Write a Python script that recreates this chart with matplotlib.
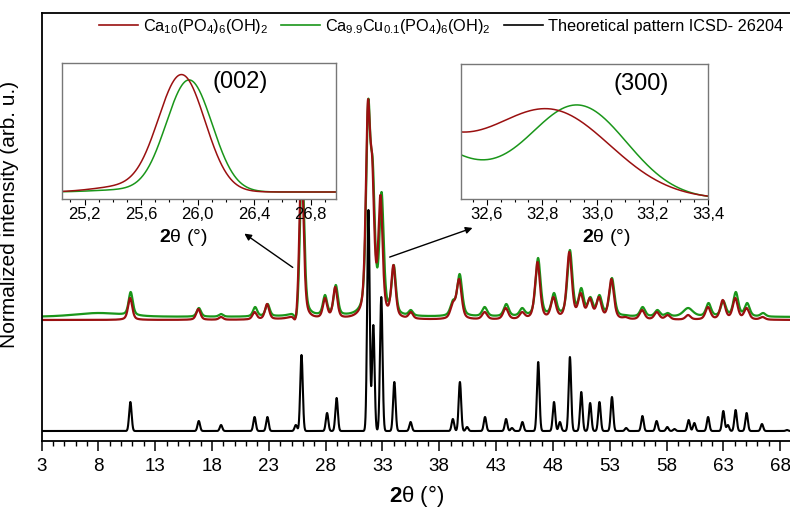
import numpy as np
import matplotlib.pyplot as plt
from matplotlib.ticker import FixedLocator, MultipleLocator, FuncFormatter

plt.rcParams['font.family'] = ['Liberation Sans', 'DejaVu Sans']
plt.rcParams['mathtext.fontset'] = 'custom'
plt.rcParams['mathtext.rm'] = 'Liberation Sans'
plt.rcParams['mathtext.it'] = 'Liberation Sans:italic'
plt.rcParams['mathtext.bf'] = 'Liberation Sans:bold'

RED = '#9a1010'
GREEN = '#1a961a'

# peak lists: 2theta, apex height above baseline, half width
red_pos = [10.8, 16.8, 18.8, 21.75, 22.85, 25.4, 25.88, 27.95, 28.85, 31.72, 32.1, 32.83,
           33.97, 35.5, 39.2, 39.75, 42.0, 43.85, 45.3, 46.65, 48.05, 49.45, 50.45, 51.25,
           52.05, 53.15, 54.4, 55.85, 57.15, 58.1, 59.9, 61.65, 62.95, 64.05, 65.05, 66.45]
red_top = [22, 11, 3, 8, 16, 5, 160, 22, 33, 219, 163, 125,
           55, 8, 18, 41, 8, 12, 8, 58, 23, 68, 27, 22,
           23, 41, 3, 10, 8, 5, 5, 13, 20, 22, 12, 3]
red_hw = [0.22] * 14 + [0.26] * 22
red_base = 121

green_pos = [8.0, 10.85, 16.85, 18.8, 21.8, 22.9, 25.45, 25.93, 27.95, 28.9, 31.75, 32.15, 32.93,
             34.0, 35.5, 39.2, 39.8, 42.0, 43.9, 45.3, 46.7, 48.1, 49.5, 50.5, 51.3,
             52.1, 53.2, 54.4, 55.9, 57.2, 58.1, 59.9, 61.7, 63.0, 64.1, 65.1, 66.5]
green_top = [4, 25, 9, 3, 10, 13, 4, 157, 22, 32, 217, 157, 125,
             52, 7, 17, 43, 10, 13, 9, 59, 24, 67, 29, 20,
             22, 39, 2, 10, 7, 4, 9, 14, 16, 25, 14, 4]
green_hw = [2.5] + [0.22] * 14 + [0.26] * 16 + [0.5] + [0.26] * 5
green_base = 124

theo_pos = [10.82, 16.84, 18.8, 21.75, 22.88, 25.38, 25.88, 28.13, 28.97, 31.77, 32.2, 32.9,
            34.05, 35.48, 39.2, 39.82, 40.45, 42.03, 43.88, 44.4, 45.32, 46.71, 48.1, 48.62,
            49.5, 50.5, 51.28, 52.1, 53.2, 54.45, 55.88, 57.13, 58.07, 58.7, 59.95, 60.45,
            61.66, 63.0, 63.4, 64.08, 65.05, 66.4, 68.6]
theo_top = [29, 10, 6, 14, 14, 6, 76, 18, 33, 221, 106, 134,
            49, 9, 12, 49, 4, 14, 12, 3, 9, 69, 29, 9,
            74, 39, 28, 29, 34, 3, 15, 10, 4, 2, 11, 8,
            14, 20, 6, 21, 18, 7, 1]
theo_hw = [0.13] * len(theo_pos)
theo_base = 10

# inset components: 2theta, height, half width
in1_red_pos, in1_red_amp, in1_red_hw = [25.887, 25.45], [117, 5], [0.195, 0.235]
in1_green_pos, in1_green_amp, in1_green_hw = [25.94, 25.45], [112, 2], [0.192, 0.235]
in1_base = 7
in2_red_pos, in2_red_amp, in2_red_hw = [32.1, 32.83], [118, 87], [0.318, 0.257]
in2_green_pos, in2_green_amp, in2_green_hw = [32.15, 32.93], [93, 92.6], [0.318, 0.208]

main_ticks = [3, 8, 13, 18, 23, 28, 33, 38, 43, 48, 53, 58, 63, 68]

legend_labels = [r'Ca$_{10}$(PO$_4$)$_6$(OH)$_2$',
                 r'Ca$_{9.9}$Cu$_{0.1}$(PO$_4$)$_6$(OH)$_2$',
                 'Theoretical pattern ICSD- 26204']


def pv(x, x0, w, eta):
    d = (x - x0) / w
    return eta / (1 + d * d) + (1 - eta) * np.exp(-np.log(2) * d * d)


def profile(x, pos, top, hw, eta):
    """
    build a trace whose apexes sit at the read heights
    """
    pos, top, hw = np.asarray(pos), np.asarray(top, float), np.asarray(hw)
    m = pv(pos[:, None], pos[None, :], hw[None, :], eta)
    amp = np.linalg.solve(m, top)
    return (amp[None, :] * pv(x[:, None], pos[None, :], hw[None, :], eta)).sum(axis=1)


def gsum(x, pos, amp, hw):
    pos, amp, hw = np.asarray(pos), np.asarray(amp), np.asarray(hw)
    return (amp[None, :] * pv(x[:, None], pos[None, :], hw[None, :], 0.0)).sum(axis=1)


def comma(v, p):
    return ('%.1f' % v).replace('.', ',')


W, H = 790, 509
fig = plt.figure(figsize=(7.9, 5.09), dpi=100)
ax = fig.add_axes([41.5 / W, 68 / H, 750 / W, 428 / H])

xx = np.arange(3, 69.001, 0.01)
ax.plot(xx, theo_base + profile(xx, theo_pos, theo_top, theo_hw, 0.0), color='black', lw=1.5)
ax.plot(xx, green_base + profile(xx, green_pos, green_top, green_hw, 0.5), color=GREEN, lw=1.6)
ax.plot(xx, red_base + profile(xx, red_pos, red_top, red_hw, 0.5), color=RED, lw=1.6)

ax.set_xlim(3, 69)
ax.set_ylim(0, 428)
ax.set_yticks([])
ax.xaxis.set_major_locator(FixedLocator(main_ticks))
ax.xaxis.set_minor_locator(MultipleLocator(1))
ax.tick_params(axis='x', which='major', direction='out', length=7, width=1.1, labelsize=13.5, pad=5)
ax.tick_params(axis='x', which='minor', direction='out', length=3.5, width=1.0)
for s in ax.spines.values():
    s.set_linewidth(1.3)
ax.set_xlabel(r'$\mathbf{2}$θ (°)', fontsize=16)
ax.xaxis.set_label_coords(0.5, -0.098)
ax.set_ylabel('Normalized intensity (arb. u.)', fontsize=15)
ax.yaxis.set_label_coords(-0.03, 0.53)

handles = [plt.Line2D([], [], color=c, lw=1.2) for c in (RED, GREEN, 'black')]
fig.legend(handles, legend_labels, loc='center left', bbox_to_anchor=(99 / W, 1 - 26 / H),
           ncol=3, frameon=False, fontsize=11.7, handlelength=2.4, handletextpad=0.3,
           columnspacing=0.8, borderpad=0, borderaxespad=0)

# arrows to the insets
ax.annotate('', xy=(20.65, 209), xytext=(25.31, 172),
            arrowprops=dict(arrowstyle='-|>', color='black', lw=1, mutation_scale=10))
ax.annotate('', xy=(41.16, 214), xytext=(33.41, 183),
            arrowprops=dict(arrowstyle='-|>', color='black', lw=1, mutation_scale=10))


def style_inset(a, major, minor):
    a.set_yticks([])
    a.xaxis.set_major_locator(MultipleLocator(major))
    a.xaxis.set_minor_locator(MultipleLocator(minor))
    a.xaxis.set_major_formatter(FuncFormatter(comma))
    a.tick_params(axis='x', which='major', direction='out', length=4, width=0.8, labelsize=12, pad=1.5)
    a.tick_params(axis='x', which='minor', direction='out', length=2, width=0.8)
    for s in a.spines.values():
        s.set_color('#777777')
        s.set_linewidth(1.0)


# (002) inset
ax1 = fig.add_axes([62 / W, 310 / H, 274 / W, 136 / H])
x1 = np.arange(25.0, 27.0, 0.002)
ax1.plot(x1, in1_base + gsum(x1, in1_green_pos, in1_green_amp, in1_green_hw), color=GREEN, lw=1.1)
ax1.plot(x1, in1_base + gsum(x1, in1_red_pos, in1_red_amp, in1_red_hw), color=RED, lw=1.1)
ax1.set_xlim(25.04, 26.98)
ax1.set_ylim(0, 136)
style_inset(ax1, 0.4, 0.1)
ax1.set_xticks([25.2, 25.6, 26.0, 26.4, 26.8])
ax1.text(0.65, 0.86, '(002)', transform=ax1.transAxes, fontsize=17, ha='center', va='center')
fig.text(183 / W, 1 - 237 / H, r'$\mathbf{2}$θ (°)', fontsize=14, ha='center', va='center')

# (300) inset
ax2 = fig.add_axes([461 / W, 310 / H, 247 / W, 135 / H])
x2 = np.arange(32.45, 33.45, 0.002)
ax2.plot(x2, gsum(x2, in2_green_pos, in2_green_amp, in2_green_hw), color=GREEN, lw=1.1)
ax2.plot(x2, gsum(x2, in2_red_pos, in2_red_amp, in2_red_hw), color=RED, lw=1.1)
ax2.set_xlim(32.506, 33.4)
ax2.set_ylim(0, 135)
style_inset(ax2, 0.2, 0.05)
ax2.set_xticks([32.6, 32.8, 33.0, 33.2, 33.4])
ax2.text(0.73, 0.85, '(300)', transform=ax2.transAxes, fontsize=17, ha='center', va='center')
fig.text(606 / W, 1 - 237 / H, r'$\mathbf{2}$θ (°)', fontsize=14, ha='center', va='center')

plt.savefig('out.png', dpi=100)
